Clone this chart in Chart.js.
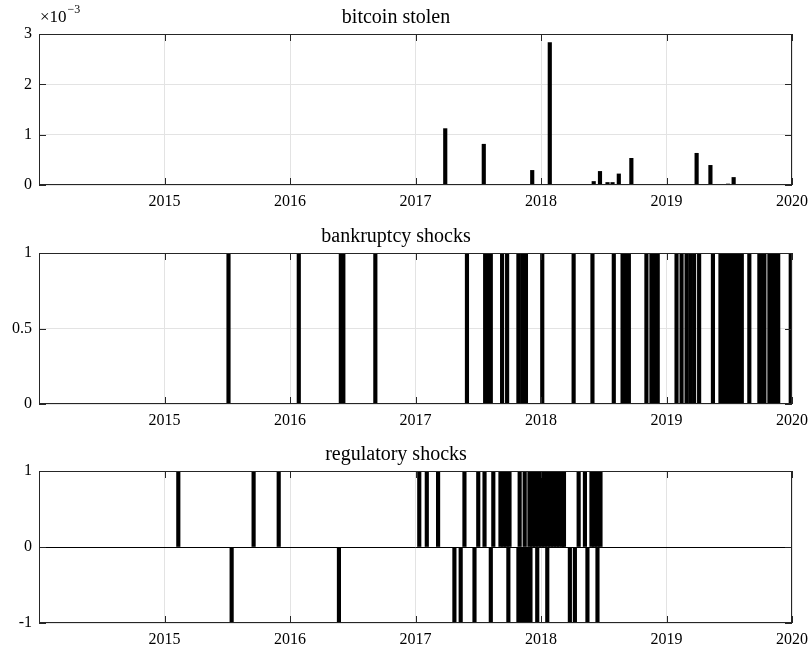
<!DOCTYPE html>
<html>
<head>
<meta charset="utf-8">
<script src="https://cdn.jsdelivr.net/npm/chart.js@4.4.0/dist/chart.umd.min.js"></script>
<style>
  body { margin: 0; background: #fff; width: 810px; height: 647px; overflow: hidden; position: relative; }
  canvas { position: absolute; left: 0; }
</style>
</head>
<body>
<canvas id="stolenCanvas" width="810" height="209" style="top:0px"></canvas>
<canvas id="bankruptcyCanvas" width="810" height="209" style="top:219px"></canvas>
<canvas id="regulatoryCanvas" width="810" height="210" style="top:437px"></canvas>
<script>
// event dates as decimal years
const stolenDates = [2017.237, 2017.544, 2017.93, 2018.07, 2018.29, 2018.42, 2018.47, 2018.53,
    2018.57, 2018.62, 2018.72, 2019.24, 2019.35, 2019.49, 2019.535];
const stolenValues = [0.00112, 0.00081, 0.00029, 0.00283, 0.00001, 0.00007, 0.00027, 0.00005,
    0.00005, 0.00022, 0.00053, 0.00063, 0.00039, 0.00002, 0.00015];

const bankruptcyDates = [2015.51, 2016.07, 2016.405, 2016.425, 2016.68, 2017.41, 2017.555, 2017.58,
    2017.60, 2017.69, 2017.73, 2017.82, 2017.85, 2017.88, 2018.01, 2018.26, 2018.41, 2018.58,
    2018.65, 2018.67, 2018.70, 2018.84, 2018.88, 2018.905, 2018.93, 2019.08, 2019.12,
    2019.16, 2019.19, 2019.22, 2019.26, 2019.37, 2019.43, 2019.45, 2019.47, 2019.49, 2019.51,
    2019.53, 2019.55, 2019.57, 2019.59, 2019.60, 2019.66, 2019.74, 2019.76, 2019.78, 2019.82,
    2019.84, 2019.86, 2019.87, 2019.89, 2019.99];

const regUpDates = [2015.11, 2015.71, 2015.91, 2017.03, 2017.09, 2017.18, 2017.39, 2017.50,
    2017.55, 2017.62, 2017.677, 2017.701, 2017.725, 2017.749, 2017.83, 2017.87, 2017.908,
    2017.932, 2017.956, 2017.98, 2018.004, 2018.028, 2018.052, 2018.076, 2018.10, 2018.124,
    2018.147, 2018.171, 2018.183, 2018.30, 2018.35, 2018.402, 2018.426, 2018.45, 2018.474];
const regDownDates = [2015.535, 2016.39, 2017.31, 2017.36, 2017.47, 2017.60, 2017.74, 2017.82,
    2017.845, 2017.87, 2017.892, 2017.916, 2017.97, 2018.05, 2018.23, 2018.27, 2018.37, 2018.45];

const yearTicks = [2015, 2016, 2017, 2018, 2019, 2020];
const stolenTicks = [0, 0.001, 0.002, 0.003];
const bankruptcyTicks = [0, 0.5, 1];
const regulatoryTicks = [-1, 0, 1];

Chart.defaults.font.family = "'Liberation Serif', serif";
Chart.defaults.color = '#000';

// MATLAB style box, inward tick marks and exponent label
const boxPlugin = {
    id: 'matlabBox',
    afterDatasetsDraw(chart, args, opts) {
        const ctx = chart.ctx;
        const a = chart.chartArea;
        const xs = chart.scales.x, ys = chart.scales.y;
        ctx.save();
        ctx.strokeStyle = '#262626';
        ctx.lineWidth = 1;
        ctx.beginPath();
        xs.ticks.forEach(t => {
            const px = Math.round(xs.getPixelForValue(t.value)) + 0.5;
            ctx.moveTo(px, a.bottom); ctx.lineTo(px, a.bottom - 7);
            ctx.moveTo(px, a.top); ctx.lineTo(px, a.top + 7);
        });
        ys.ticks.forEach(t => {
            const py = Math.round(ys.getPixelForValue(t.value)) + 0.5;
            ctx.moveTo(a.left, py); ctx.lineTo(a.left + 7, py);
            ctx.moveTo(a.right, py); ctx.lineTo(a.right - 7, py);
        });
        ctx.stroke();
        ctx.strokeRect(a.left + 0.5, a.top + 0.5, a.width - 1, a.height - 1);
        if (opts.exponent) {
            ctx.fillStyle = '#000';
            ctx.textBaseline = 'alphabetic';
            ctx.font = "17px 'Liberation Serif', serif";
            ctx.fillText('\u00d710', a.left + 1, a.top - 12);
            const w = ctx.measureText('\u00d710').width;
            ctx.font = "12px 'Liberation Serif', serif";
            ctx.fillText('\u22123', a.left + 2 + w, a.top - 21);
        }
        ctx.restore();
    }
};

function makeChart(id, title, datasets, yMin, yMax, yTicks, yLabel, exponent, zeroLine) {
    const ctx = document.getElementById(id).getContext('2d');
    return new Chart(ctx, {
        type: 'bar',
        data: { datasets: datasets },
        options: {
            responsive: false,
            animation: false,
            layout: { padding: { left: 0, right: 18, top: 0, bottom: 0 } },
            plugins: {
                legend: { display: false },
                tooltip: { enabled: false },
                title: {
                    display: true, text: title, color: '#000',
                    font: { size: 20, weight: 'normal', lineHeight: 1.0 },
                    padding: { top: 8, bottom: 6 }
                },
                matlabBox: { exponent: exponent }
            },
            scales: {
                x: {
                    type: 'linear', min: 2014, max: 2020, offset: false,
                    afterBuildTicks: s => { s.ticks = yearTicks.map(v => ({ value: v })); },
                    afterFit: s => { s.height = 24; s.paddingLeft = 0; s.paddingRight = 0; },
                    ticks: { font: { size: 16 }, padding: 7, maxRotation: 0, callback: v => String(v) },
                    grid: { color: '#e3e3e3', drawTicks: false, offset: false },
                    border: { display: false }
                },
                y: {
                    min: yMin, max: yMax,
                    afterBuildTicks: s => { s.ticks = yTicks.map(v => ({ value: v })); },
                    afterFit: s => { s.width = 39; },
                    ticks: { font: { size: 16 }, padding: 7, callback: yLabel },
                    grid: {
                        drawTicks: false,
                        color: c => (zeroLine && c.tick && c.tick.value === 0) ? '#000' : '#e3e3e3'
                    },
                    border: { display: false }
                }
            }
        },
        plugins: [boxPlugin]
    });
}

function barSet(dates, values) {
    return {
        data: dates.map((x, i) => ({ x: x, y: values[i] })),
        backgroundColor: '#000',
        borderWidth: 0,
        barThickness: 3.5,
        grouped: false
    };
}

makeChart('stolenCanvas', 'bitcoin stolen',
    [barSet(stolenDates, stolenValues)],
    0, 0.003, stolenTicks, v => String(Math.round(v * 1000)), true, false);

makeChart('bankruptcyCanvas', 'bankruptcy shocks',
    [barSet(bankruptcyDates, bankruptcyDates.map(() => 1))],
    0, 1, bankruptcyTicks, v => String(v), false, false);

makeChart('regulatoryCanvas', 'regulatory shocks',
    [barSet(regUpDates, regUpDates.map(() => 1)), barSet(regDownDates, regDownDates.map(() => -1))],
    -1, 1, regulatoryTicks, v => String(v), false, true);
</script>
</body>
</html>
